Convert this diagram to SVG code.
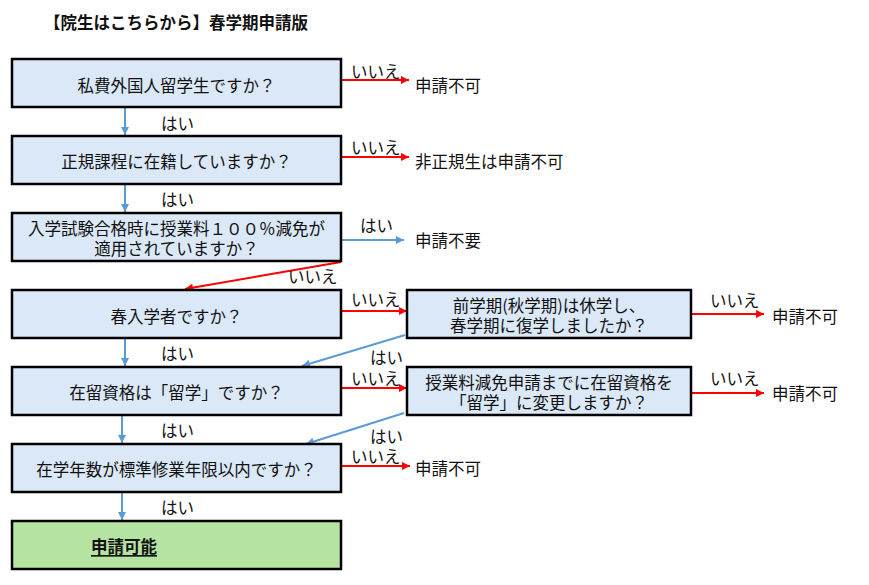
<svg xmlns="http://www.w3.org/2000/svg" width="869" height="585" viewBox="0 0 869 585">
<defs>
<style>
text{font-family:"Noto Sans CJK JP","Noto Sans CJK SC",sans-serif;font-size:16.5px;fill:#111;dominant-baseline:central}
.box{fill:#dae8f7;stroke:#000;stroke-width:2.5}
.ok{fill:#b5e3a1;stroke:#000;stroke-width:2.5}
.c{text-anchor:middle}
.r{stroke:#ff0000;stroke-width:2;fill:none}
.b{stroke:#5b9bd5;stroke-width:2;fill:none}
</style>
<marker id="ar" viewBox="0 0 10 10" refX="10" refY="5" markerWidth="9" markerHeight="8" markerUnits="userSpaceOnUse" orient="auto"><path d="M0,0L10,5L0,10z" fill="#ff0000"/></marker>
<marker id="ab" viewBox="0 0 10 10" refX="10" refY="5" markerWidth="9" markerHeight="8" markerUnits="userSpaceOnUse" orient="auto"><path d="M0,0L10,5L0,10z" fill="#5b9bd5"/></marker>
</defs>
<rect width="869" height="585" fill="#fff"/>
<text x="44" y="22" font-weight="bold" font-size="16.3">【院生はこちらから】春学期申請版</text>

<g id="connectors">
<line class="b" x1="125" y1="107" x2="125" y2="135" marker-end="url(#ab)"/>
<line class="b" x1="125" y1="184" x2="125" y2="212" marker-end="url(#ab)"/>
<line class="b" x1="125" y1="338" x2="125" y2="366" marker-end="url(#ab)"/>
<line class="b" x1="122" y1="415" x2="122" y2="443" marker-end="url(#ab)"/>
<line class="b" x1="122" y1="492" x2="122" y2="520" marker-end="url(#ab)"/>
<line class="r" x1="341" y1="80" x2="409" y2="80" marker-end="url(#ar)"/>
<line class="r" x1="341" y1="157" x2="409" y2="157" marker-end="url(#ar)"/>
<line class="b" x1="341" y1="240" x2="404" y2="240" marker-end="url(#ab)"/>
<line class="r" x1="341" y1="262" x2="185" y2="289" marker-end="url(#ar)"/>
<line class="r" x1="341" y1="311" x2="407" y2="311" marker-end="url(#ar)"/>
<line class="r" x1="691" y1="314" x2="764" y2="314" marker-end="url(#ar)"/>
<line class="b" x1="405" y1="335" x2="302" y2="366" marker-end="url(#ab)"/>
<line class="r" x1="341" y1="388" x2="407" y2="388" marker-end="url(#ar)"/>
<line class="r" x1="691" y1="393" x2="764" y2="393" marker-end="url(#ar)"/>
<line class="b" x1="404" y1="413" x2="306" y2="444" marker-end="url(#ab)"/>
<line class="r" x1="341" y1="466" x2="410" y2="466" marker-end="url(#ar)"/>
<text x="161" y="123">はい</text>
<text x="161" y="199">はい</text>
<text x="161" y="353">はい</text>
<text x="161" y="430">はい</text>
<text x="161" y="507">はい</text>
<text x="351" y="71">いいえ</text>
<text x="351" y="147">いいえ</text>
<text x="360" y="225">はい</text>
<text x="288" y="276">いいえ</text>
<text x="351" y="299">いいえ</text>
<text x="710" y="300">いいえ</text>
<text x="370" y="357">はい</text>
<text x="351" y="378">いいえ</text>
<text x="710" y="378">いいえ</text>
<text x="370" y="436">はい</text>
<text x="351" y="456">いいえ</text>
<text x="415" y="85">申請不可</text>
<text x="415" y="161">非正規生は申請不可</text>
<text x="415" y="240">申請不要</text>
<text x="772" y="316">申請不可</text>
<text x="772" y="393">申請不可</text>
<text x="415" y="468">申請不可</text>
</g>

<g id="n1"><rect class="box" x="12" y="59" width="329" height="48"/><text class="c" x="176.5" y="85">私費外国人留学生ですか？</text></g>
<g id="n2"><rect class="box" x="12" y="136" width="329" height="48"/><text class="c" x="176.5" y="161">正規課程に在籍していますか？</text></g>
<g id="n3"><rect class="box" x="12" y="213" width="329" height="48"/><text class="c" x="176.5" y="228">入学試験合格時に授業料１００％減免が</text><text class="c" x="176.5" y="248">適用されていますか？</text></g>
<g id="n4"><rect class="box" x="12" y="290" width="329" height="48"/><text class="c" x="176.5" y="316">春入学者ですか？</text></g>
<g id="n5"><rect class="box" x="12" y="367" width="329" height="48"/><text class="c" x="176.5" y="392">在留資格は「留学」ですか？</text></g>
<g id="n6"><rect class="box" x="12" y="444" width="329" height="48"/><text class="c" x="176.5" y="469">在学年数が標準修業年限以内ですか？</text></g>
<g id="n7"><rect class="ok" x="12" y="521" width="329" height="48"/><text x="91" y="546" font-weight="bold" text-decoration="underline">申請可能</text></g>
<g id="nA"><rect class="box" x="407" y="290" width="284" height="48"/><text class="c" x="549" y="305">前学期(秋学期)は休学し、</text><text class="c" x="549" y="325">春学期に復学しましたか？</text></g>
<g id="nB"><rect class="box" x="407" y="367" width="284" height="48"/><text class="c" x="549" y="382">授業料減免申請までに在留資格を</text><text class="c" x="549" y="402">「留学」に変更しますか？</text></g>
</svg>
